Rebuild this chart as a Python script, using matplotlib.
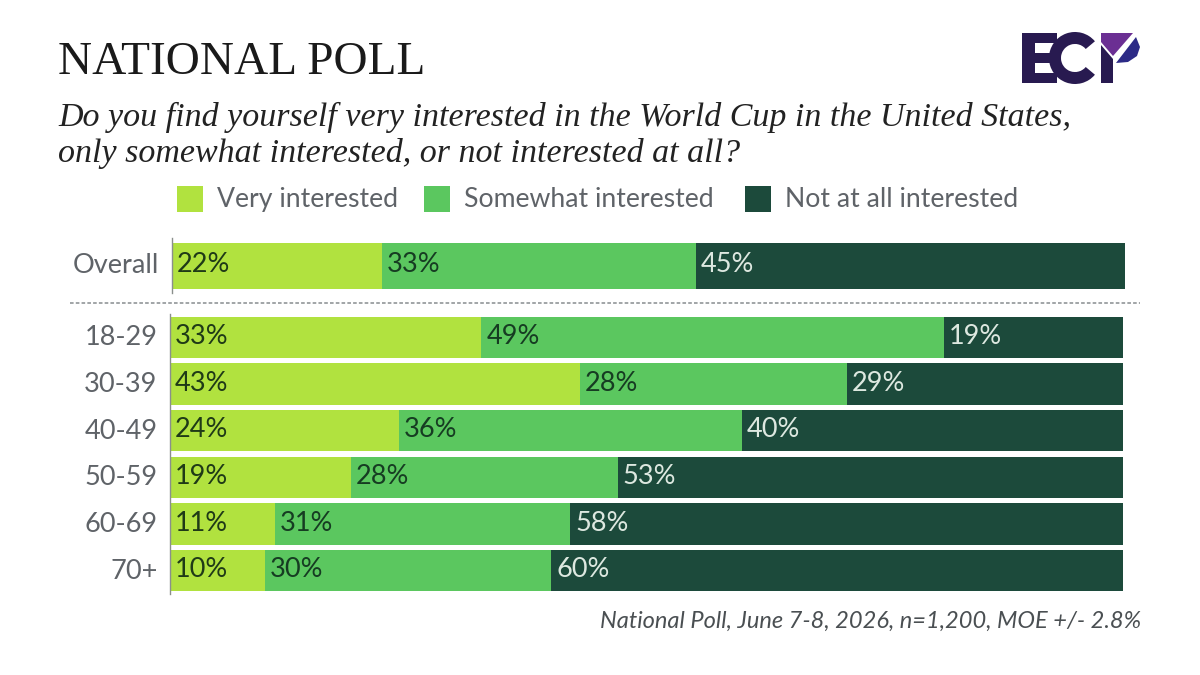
import matplotlib
matplotlib.use("Agg")
import matplotlib.pyplot as plt
from matplotlib.patches import Polygon, Wedge, Rectangle
from matplotlib.transforms import ScaledTranslation

W, H = 1200, 675
overall_label = ["Overall"]
overall_very = [22]
overall_some = [33]
overall_not = [45]
age_labels = ["18-29", "30-39", "40-49", "50-59", "60-69", "70+"]
age_very = [33, 43, 24, 19, 11, 10]
age_some = [49, 28, 36, 28, 31, 30]
age_not = [19, 29, 40, 53, 58, 60]
series_names = ["Very interested", "Somewhat interested", "Not at all interested"]
colors = ["#B1E23F", "#5BC75F", "#1C4A3B"]
text_dark = ["#1F3A17", "#163C22", "#DDE8E0"]

SANS = "Lato"
SERIF = "Liberation Serif"
GREY = "#5F6368"

fig = plt.figure(figsize=(W / 100, H / 100), dpi=100, facecolor="white")


def axes_px(x0, y0, x1, y1):
    return fig.add_axes([x0 / W, 1 - y1 / H, (x1 - x0) / W, (y1 - y0) / H])


def draw_bars(ax, labels, v, s, n, height):
    ypos = list(range(len(labels)))
    left = [0.0] * len(labels)
    for k, vals in enumerate((v, s, n)):
        widths = [vals[i] / (v[i] + s[i] + n[i]) * 100 for i in ypos]
        ax.barh(ypos, widths, left=left, height=height, color=colors[k], linewidth=0)
        for i in ypos:
            ax.annotate(f"{vals[i]}%", (left[i], i), xytext=(3.5, 0.5),
                        textcoords="offset points", va="center", ha="left",
                        fontsize=19.5, family=SANS, color=text_dark[k])
        left = [left[i] + widths[i] for i in ypos]
    ax.set_xlim(0, 100)
    ax.set_yticks(ypos, labels)
    ax.invert_yaxis()
    ax.set_xticks([])
    ax.tick_params(axis="y", length=0, pad=9, labelsize=19.5, labelcolor=GREY)
    for t in ax.get_yticklabels():
        t.set_family(SANS)
        t.set_transform(t.get_transform() + ScaledTranslation(0, 1.5 / 72, fig.dpi_scale_trans))
    for sp in ("top", "right", "bottom"):
        ax.spines[sp].set_visible(False)
    ax.spines["left"].set_color("#8A8F8C")
    ax.spines["left"].set_linewidth(1.0)
    ax.patch.set_alpha(0)


ax1 = axes_px(172, 238, 1125, 293)
draw_bars(ax1, overall_label, overall_very, overall_some, overall_not, 46 / 55)
ax1.set_ylim(0.5, -0.5)

ax2 = axes_px(170, 314, 1123, 594)
draw_bars(ax2, age_labels, age_very, age_some, age_not, 0.89)
ax2.set_ylim(5.5, -0.5)

ov = fig.add_axes([0, 0, 1, 1], zorder=5)
ov.set_xlim(0, W)
ov.set_ylim(H, 0)
ov.axis("off")
ov.patch.set_alpha(0)

ov.text(58, 74, "NATIONAL POLL", family=SERIF, fontsize=34, color="#1A1A1A", va="baseline", ha="left")
ov.text(58, 126, "Do you find yourself very interested in the World Cup in the United States,",
        family=SERIF, style="italic", fontsize=24.5, color="#222222", va="baseline", ha="left")
ov.text(58, 162, "only somewhat interested, or not interested at all?",
        family=SERIF, style="italic", fontsize=24.5, color="#222222", va="baseline", ha="left")

legend_x = [177, 424, 745]
for x, name, col in zip(legend_x, series_names, colors):
    ov.add_patch(Rectangle((x, 186), 26, 26, color=col, lw=0))
    ov.text(x + 40, 207, name, family=SANS, fontsize=19.2, color=GREY, va="baseline", ha="left")

ov.plot([70, 1140], [302.5, 302.5], color="#9A9EA0", lw=1.3, ls=(0, (2, 1.2)))

ov.text(1141, 621, "National Poll, June 7-8, 2026, n=1,200, MOE +/- 2.8%",
        family=SANS, style="italic", fontsize=17, color="#4A4F52", va="center", ha="right")

# Logo
NAVY = "#281A50"
ov.add_patch(Rectangle((1022, 33), 13, 50, color=NAVY, lw=0))
for top in (33, 53, 73):
    ov.add_patch(Rectangle((1022, top), 35, 10, color=NAVY, lw=0))
ov.add_patch(Wedge((1075, 58), 26, 40, 320, width=12, color=NAVY, lw=0))
ov.add_patch(Polygon([(1101, 33), (1133, 33), (1113, 56), (1101, 42)], color="#6B2F93", lw=0))
ov.add_patch(Polygon([(1101, 45), (1113, 59), (1113, 83), (1101, 83)], color=NAVY, lw=0))
ov.add_patch(Polygon([(1136, 37), (1140, 47), (1137, 56), (1128, 62), (1116, 63)], color="#2C2A86", lw=0))

fig.savefig("out.png", dpi=100, facecolor="white")
